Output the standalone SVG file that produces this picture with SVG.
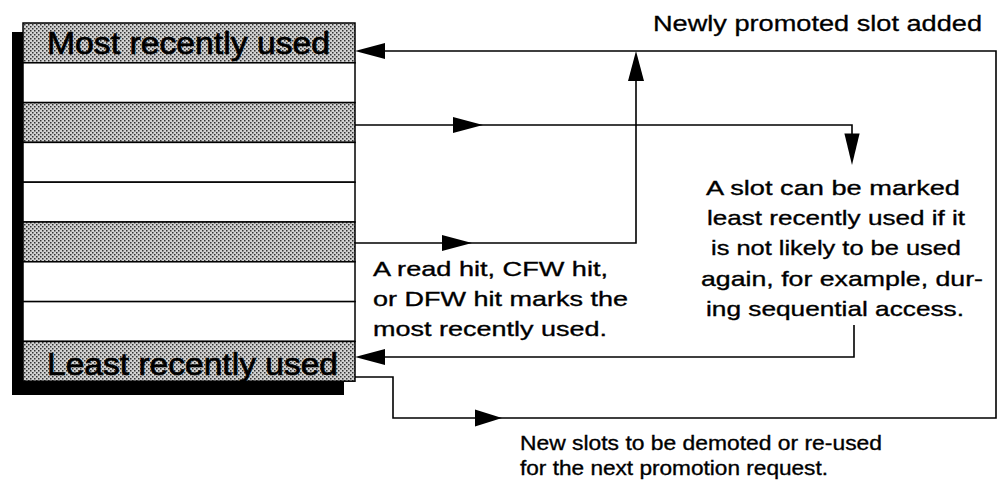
<svg xmlns="http://www.w3.org/2000/svg" xmlns:xlink="http://www.w3.org/1999/xlink" width="997" height="480" viewBox="0 0 997 480">
  <style>
    .row { fill: #ffffff; stroke: #000; stroke-width: 1.5; }
    .shade { fill: url(#dots); stroke: #000; stroke-width: 1.5; }
    .wire { fill: none; stroke: #000; stroke-width: 1.6; }
    .big { font-family: "Liberation Sans", Arial, Helvetica, sans-serif; font-size: 31px; fill: #000; stroke: #000; stroke-width: 0.7; }
    .note { font-family: "Liberation Sans", Arial, Helvetica, sans-serif; font-size: 21px; fill: #000; stroke: #000; stroke-width: 0.35; }
    .head { font-family: "Liberation Sans", Arial, Helvetica, sans-serif; font-size: 22px; fill: #000; stroke: #000; stroke-width: 0.3; }
  </style>
  <defs>
    <pattern id="dots" width="4" height="4" patternUnits="userSpaceOnUse">
      <rect width="4" height="4" fill="#d2d2d2"/>
      <rect x="0" y="0" width="1.5" height="1.5" fill="#333333"/>
      <rect x="2" y="2" width="1.5" height="1.5" fill="#333333"/>
    </pattern>
    <!-- arrowhead pointing right, tip at the origin -->
    <path id="ah" d="M0,0 L-30,-8 L-30,8 Z" fill="#000"/>
  </defs>

  <rect width="997" height="480" fill="#ffffff"/>

  <!-- slot stack -->
  <g id="stack">
    <rect x="12" y="32" width="332" height="363" fill="#000"/>
    <rect class="shade" x="23" y="23" width="332" height="39.8"/>
    <rect class="row" x="23" y="62.8" width="332" height="39.8"/>
    <rect class="shade" x="23" y="102.6" width="332" height="39.8"/>
    <rect class="row" x="23" y="142.4" width="332" height="39.8"/>
    <rect class="row" x="23" y="182.2" width="332" height="39.8"/>
    <rect class="shade" x="23" y="222" width="332" height="39.8"/>
    <rect class="row" x="23" y="261.8" width="332" height="39.8"/>
    <rect class="row" x="23" y="301.6" width="332" height="39.8"/>
    <rect class="shade" x="23" y="341.4" width="332" height="39.8"/>
    <text class="big" x="47" y="54" textLength="283" lengthAdjust="spacingAndGlyphs">Most recently used</text>
    <text class="big" x="47" y="375" textLength="291" lengthAdjust="spacingAndGlyphs">Least recently used</text>
  </g>

  <!-- connectors -->
  <g id="connectors">
    <path class="wire" d="M355,377 H393 V418 H996 V51 H370"/>
    <path class="wire" d="M355,125 H852 V150"/>
    <path class="wire" d="M355,243 H636 V66"/>
    <path class="wire" d="M854,325 V357 H370"/>
    <use xlink:href="#ah" transform="translate(355,51) rotate(180)"/>
    <use xlink:href="#ah" transform="translate(483,125)"/>
    <use xlink:href="#ah" transform="translate(852,165) rotate(90) scale(1.05,0.95)"/>
    <use xlink:href="#ah" transform="translate(636,51) rotate(-90)"/>
    <use xlink:href="#ah" transform="translate(472,243)"/>
    <use xlink:href="#ah" transform="translate(355,357) rotate(180)"/>
    <use xlink:href="#ah" transform="translate(502,418) scale(0.9,1.05)"/>
  </g>

  <!-- labels -->
  <g id="label-promoted">
    <text class="head" x="653" y="31" textLength="329" lengthAdjust="spacingAndGlyphs">Newly promoted slot added</text>
  </g>
  <g id="label-hit">
    <text class="note" x="373" y="276" textLength="235" lengthAdjust="spacingAndGlyphs">A read hit, CFW hit,</text>
    <text class="note" x="373" y="306" textLength="255" lengthAdjust="spacingAndGlyphs">or DFW hit marks the</text>
    <text class="note" x="373" y="336" textLength="234" lengthAdjust="spacingAndGlyphs">most recently used.</text>
  </g>
  <g id="label-lru">
    <text class="note" x="706" y="195" textLength="254" lengthAdjust="spacingAndGlyphs">A slot can be marked</text>
    <text class="note" x="707" y="225" textLength="258" lengthAdjust="spacingAndGlyphs">least recently used if it</text>
    <text class="note" x="711" y="255" textLength="250" lengthAdjust="spacingAndGlyphs">is not likely to be used</text>
    <text class="note" x="701" y="286" textLength="282" lengthAdjust="spacingAndGlyphs">again, for example, dur-</text>
    <text class="note" x="706" y="316" textLength="258" lengthAdjust="spacingAndGlyphs">ing sequential access.</text>
  </g>
  <g id="label-demoted">
    <text class="note" x="520" y="450" textLength="362" lengthAdjust="spacingAndGlyphs">New slots to be demoted or re-used</text>
    <text class="note" x="520" y="475" textLength="308" lengthAdjust="spacingAndGlyphs">for the next promotion request.</text>
  </g>
</svg>
